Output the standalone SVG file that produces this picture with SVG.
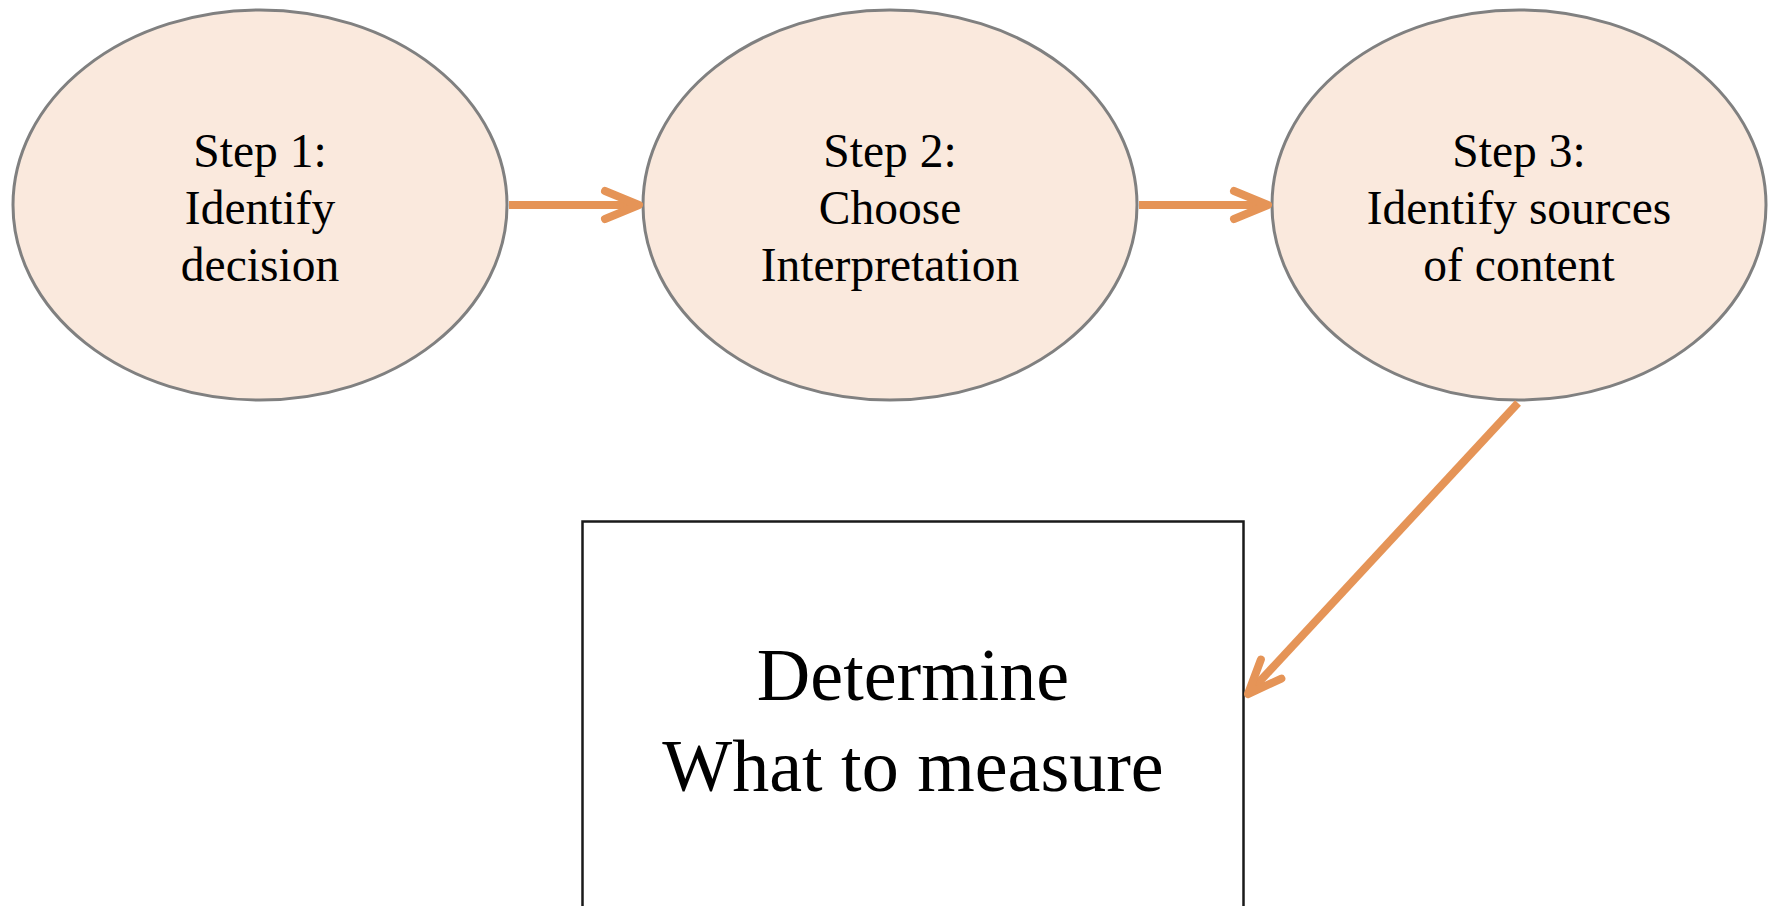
<svg xmlns="http://www.w3.org/2000/svg" width="1779" height="906" viewBox="0 0 1779 906">
  <style>
    .node ellipse { fill: #FAE9DD; stroke: #808080; stroke-width: 3; }
    .lbl { font-family: "Liberation Serif", "Times New Roman", serif; fill: #000; text-anchor: middle; }
    .step { font-size: 47.5px; }
    .big { font-size: 74px; }
    .conn { fill: none; stroke: #E59457; stroke-width: 8; }
  </style>
  <defs>
    <marker id="chev" markerUnits="userSpaceOnUse" viewBox="-45 -25 55 50" markerWidth="55" markerHeight="50" refX="0" refY="0" orient="auto" overflow="visible">
      <path d="M-34,-14 L0,0 L-34,14" fill="none" stroke="#E59457" stroke-width="8" stroke-linecap="round" stroke-linejoin="round"/>
    </marker>
  </defs>
  <rect width="1779" height="906" fill="#fff"/>

  <g id="node-step1" class="node">
    <ellipse cx="260" cy="205" rx="247" ry="195"/>
    <text class="lbl step" x="260" y="167">Step 1:</text>
    <text class="lbl step" x="260" y="224">Identify</text>
    <text class="lbl step" x="260" y="281">decision</text>
  </g>

  <g id="node-step2" class="node">
    <ellipse cx="890" cy="205" rx="247" ry="195"/>
    <text class="lbl step" x="890" y="167">Step 2:</text>
    <text class="lbl step" x="890" y="224">Choose</text>
    <text class="lbl step" x="890" y="281">Interpretation</text>
  </g>

  <g id="node-step3" class="node">
    <ellipse cx="1519" cy="205" rx="247" ry="195"/>
    <text class="lbl step" x="1519" y="167">Step 3:</text>
    <text class="lbl step" x="1519" y="224">Identify sources</text>
    <text class="lbl step" x="1519" y="281">of content</text>
  </g>

  <g id="node-determine">
    <rect x="582.5" y="521.5" width="661" height="400" fill="#fff" stroke="#1a1a1a" stroke-width="2.5"/>
    <text class="lbl big" x="913" y="700">Determine</text>
    <text class="lbl big" x="913" y="791">What to measure</text>
  </g>

  <g id="connectors">
    <line class="conn" x1="509" y1="205" x2="639" y2="205" marker-end="url(#chev)"/>
    <line class="conn" x1="1139" y1="205" x2="1268" y2="205" marker-end="url(#chev)"/>
    <line class="conn" x1="1518" y1="403" x2="1248" y2="694" marker-end="url(#chev)"/>
  </g>
</svg>
